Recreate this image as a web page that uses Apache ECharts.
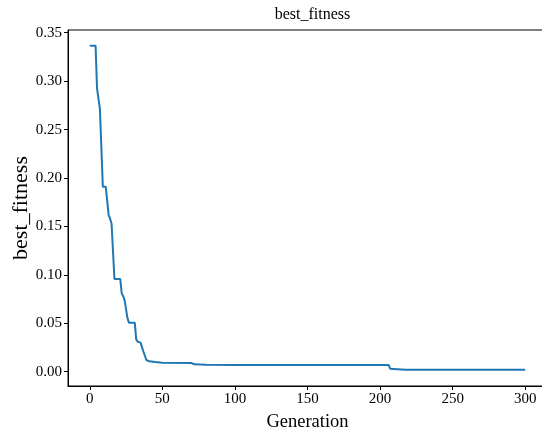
<!DOCTYPE html>
<html>
<head>
<meta charset="utf-8">
<script src="https://cdn.jsdelivr.net/npm/echarts@6/dist/echarts.min.js"></script>
<style>
html,body{margin:0;padding:0;background:#fff;}
#chart{width:542px;height:432px;}
</style>
</head>
<body>
<div id="chart"></div>
<script>
// Line vertices (generation, best fitness)
const generations = [0,4,5,6,7,8,9,11,13,14,15,17,21,22,23,24,26,27,31,32,33,35,37,39,41,45,50,70,72,80,100,206,207,212,218,300];
const fitness = [0.3365,0.3365,0.2926,0.2926,0.271,0.271,0.191,0.191,0.1618,0.158,0.153,0.0957,0.0957,0.081,0.078,0.074,0.055,0.0506,0.0506,0.0334,0.031,0.030,0.0206,0.0121,0.0107,0.0100,0.0092,0.0090,0.0076,0.0072,0.0070,0.0069,0.0030,0.0026,0.0021,0.0021];
const xTicks = [0,50,100,150,200,250,300];
const yTicks = [0,0.05,0.10,0.15,0.20,0.25,0.30,0.35];

const seriesData = generations.map((g,i)=>[g, fitness[i]]);
const font = "'Liberation Serif','Times New Roman',serif";

const chart = echarts.init(document.getElementById('chart'), null, {renderer:'canvas'});
chart.setOption({
  animation:false,
  backgroundColor:'#fff',
  title:{
    text:'best_fitness',
    left:307.5, top:2, textAlign:'center',
    textStyle:{fontFamily:font, fontSize:16, fontWeight:'normal', color:'#000'}
  },
  grid:{left:68, top:30, width:479, height:356, show:true, borderColor:'#000', borderWidth:1,
        backgroundColor:'transparent', outerBoundsMode:'none', containLabel:false},
  xAxis:{
    type:'value', min:-15, max:315,
    name:'Generation', nameLocation:'middle', nameGap:27, nameMoveOverlap:false,
    nameTextStyle:{fontFamily:font, fontSize:18.5, color:'#000'},
    axisLine:{show:true, onZero:false, lineStyle:{color:'#000', width:1}},
    axisTick:{show:true, length:4, customValues:xTicks, lineStyle:{color:'#000'}},
    axisLabel:{customValues:xTicks, margin:6, fontFamily:font, fontSize:15, color:'#000'},
    splitLine:{show:false}
  },
  yAxis:{
    type:'value', min:-0.01476, max:0.3528,
    name:'best_fitness', nameLocation:'middle', nameGap:36, nameMoveOverlap:false,
    nameTextStyle:{fontFamily:font, fontSize:22, color:'#000'},
    axisLine:{show:true, onZero:false, lineStyle:{color:'#000', width:1}},
    axisTick:{show:true, length:4, customValues:yTicks, lineStyle:{color:'#000'}},
    axisLabel:{customValues:yTicks, margin:6, fontFamily:font, fontSize:15, color:'#000',
      formatter:v=>v.toFixed(2)},
    splitLine:{show:false}
  },
  series:[{
    type:'line', data:seriesData, showSymbol:false, symbol:'none',
    lineStyle:{color:'#1f77b4', width:2},
    clip:true
  }]
});
</script>
</body>
</html>
